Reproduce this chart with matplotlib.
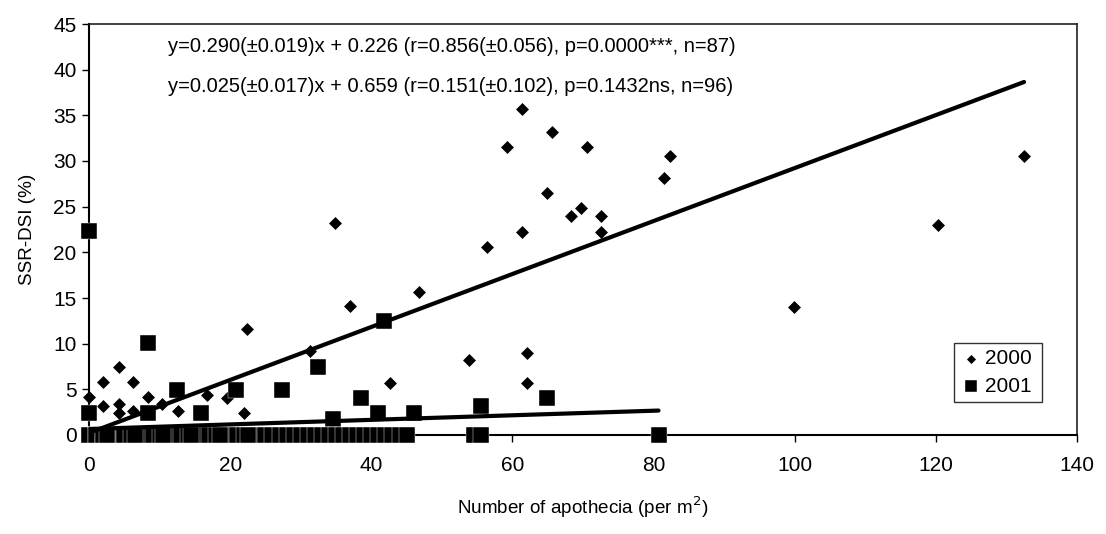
import matplotlib
matplotlib.use("Agg")
import matplotlib.pyplot as plt
import numpy as np

plt.rcParams['font.family'] = ['Liberation Sans', 'DejaVu Sans']

# ---- data: 2000 (diamonds) ----
x2000 = [61.4, 65.6, 59.2, 70.6, 82.3, 81.5, 64.9, 69.7, 68.3, 72.6, 72.6, 61.4, 56.4,
         132.5, 120.3, 99.9,
         22.4, 34.9, 37.0, 46.8, 31.3, 42.6, 53.8, 62.1, 62.1,
         4.2, 2.0, 6.3, 0.0, 8.4, 2.0, 4.2, 4.2, 6.3, 10.4, 12.6, 16.7, 22.0, 19.5,
         0, 0, 0, 1, 1, 2, 2, 3, 3, 4, 5, 5, 6, 7, 8, 9, 10, 11, 12, 13,
         14, 15, 16, 17, 18, 19, 20, 21, 22, 23, 24, 25, 26, 27, 28, 29, 30, 32,
         34, 36, 38, 40, 42, 44, 1, 3, 6, 9]
y2000 = [35.7, 33.2, 31.5, 31.5, 30.6, 28.1, 26.5, 24.9, 24.0, 24.0, 22.2, 22.2, 20.6,
         30.5, 23.0, 14.0,
         11.6, 23.2, 14.1, 15.7, 9.2, 5.7, 8.2, 9.0, 5.7,
         7.4, 5.8, 5.8, 4.2, 4.2, 3.2, 3.4, 2.4, 2.6, 3.4, 2.6, 4.4, 2.4, 4.0,
         0, 0, 0, 0, 0, 0, 0, 0, 0, 0, 0, 0, 0, 0, 0, 0, 0, 0, 0, 0,
         0, 0, 0, 0, 0, 0, 0, 0, 0, 0, 0, 0, 0, 0, 0, 0, 0, 0,
         0, 0, 0, 0, 0, 0, 0, 0, 0, 0]

# ---- data: 2001 (squares) ----
x2001 = [0.0, 8.4, 41.8, 32.5, 38.5, 34.6, 40.9, 46.1, 55.5, 64.9, 0.0, 8.4, 12.5, 15.8, 20.9, 27.3,
         0, 0, 0, 1, 1, 2, 2, 3, 3, 4, 5, 5, 6, 7, 8, 8, 9, 10, 11, 12, 12, 13, 14, 15,
         16, 17, 18, 19, 20, 20, 21, 22, 23, 24, 25, 26, 27, 28, 29, 30, 31, 32, 33, 34,
         35, 36, 37, 38, 39, 40, 41, 42, 43, 44, 45, 54.5, 55.5, 80.7, 2.5, 6.5, 10.5, 14.5,
         18.5, 22.5]
y2001 = [22.3, 10.1, 12.5, 7.4, 4.1, 1.8, 2.4, 2.4, 3.2, 4.0, 2.4, 2.4, 4.9, 2.4, 4.9, 4.9,
         0, 0, 0, 0, 0, 0, 0, 0, 0, 0, 0, 0, 0, 0, 0, 0, 0, 0, 0, 0, 0, 0, 0, 0,
         0, 0, 0, 0, 0, 0, 0, 0, 0, 0, 0, 0, 0, 0, 0, 0, 0, 0, 0, 0,
         0, 0, 0, 0, 0, 0, 0, 0, 0, 0, 0, 0, 0, 0, 0, 0, 0, 0,
         0, 0]

# regression fits (slope, intercept, x-range)
fit2000 = (0.290, 0.226, 0.0, 132.5)
fit2001 = (0.025, 0.659, 0.0, 80.7)

eq2000 = "y=0.290(\u00b10.019)x + 0.226 (r=0.856(\u00b10.056), p=0.0000***, n=87)"
eq2001 = "y=0.025(\u00b10.017)x + 0.659 (r=0.151(\u00b10.102), p=0.1432ns, n=96)"

xticks = [0, 20, 40, 60, 80, 100, 120, 140]
yticks = [0, 5, 10, 15, 20, 25, 30, 35, 40, 45]

W, H = 1106, 534
fig = plt.figure(figsize=(W / 100, H / 100), dpi=100)
ax = fig.add_axes([89 / W, 1 - 435 / H, (1077 - 89) / W, (435 - 24) / H])

ax.scatter(x2000, y2000, marker='D', s=6.6 ** 2, color='black', linewidths=0,
           label='2000', clip_on=False, zorder=3)
ax.scatter(x2001, y2001, marker='s', s=12 ** 2, facecolor='black', edgecolor='white',
           linewidths=0.3, label='2001', clip_on=False, zorder=3)

for slope, icpt, x0, x1 in (fit2000, fit2001):
    xs = np.array([x0, x1])
    ax.plot(xs, slope * xs + icpt, color='black', lw=3, solid_capstyle='round', zorder=4)

ax.set_xlim(0, 140)
ax.set_ylim(0, 45)
ax.set_xticks(xticks)
ax.set_yticks(yticks)
ax.tick_params(axis='both', labelsize=15, direction='out', length=5, width=1, colors='black')
ax.tick_params(axis='x', pad=10)
ax.tick_params(axis='y', pad=4)
for sp in ax.spines.values():
    sp.set_color('#222222')
    sp.set_linewidth(1.2)
ax.spines['left'].set_linewidth(1.5)
ax.spines['bottom'].set_linewidth(1.5)
ax.spines['left'].set_color('black')
ax.spines['bottom'].set_color('black')

ax.set_xlabel("Number of apothecia (per m$^2$)", fontsize=13.6, labelpad=14)
ax.set_ylabel("SSR-DSI (%)", fontsize=13.6, labelpad=12)

ax.text(168, 47, eq2000, transform=None, fontsize=14.5, va='center', ha='left')
ax.text(168, 87, eq2001, transform=None, fontsize=14.5, va='center', ha='left')

# convert pixel coords (top-left origin) to display coords
for t in ax.texts:
    x, y = t.get_position()
    t.set_position((x, H - y))

leg = ax.legend(loc='lower left', bbox_to_anchor=((954 - 89) / (1077 - 89), (435 - 402) / (435 - 24),
                                                  (1042 - 954) / (1077 - 89), (402 - 324) / (435 - 24)),
                mode='expand', fontsize=15, frameon=True, fancybox=False, edgecolor='black',
                handletextpad=0.2, handlelength=1.0, borderpad=0.3, labelspacing=0.4,
                markerscale=0.7, borderaxespad=0)
leg.get_frame().set_linewidth(1.0)

fig.savefig("out.png", dpi=100)
